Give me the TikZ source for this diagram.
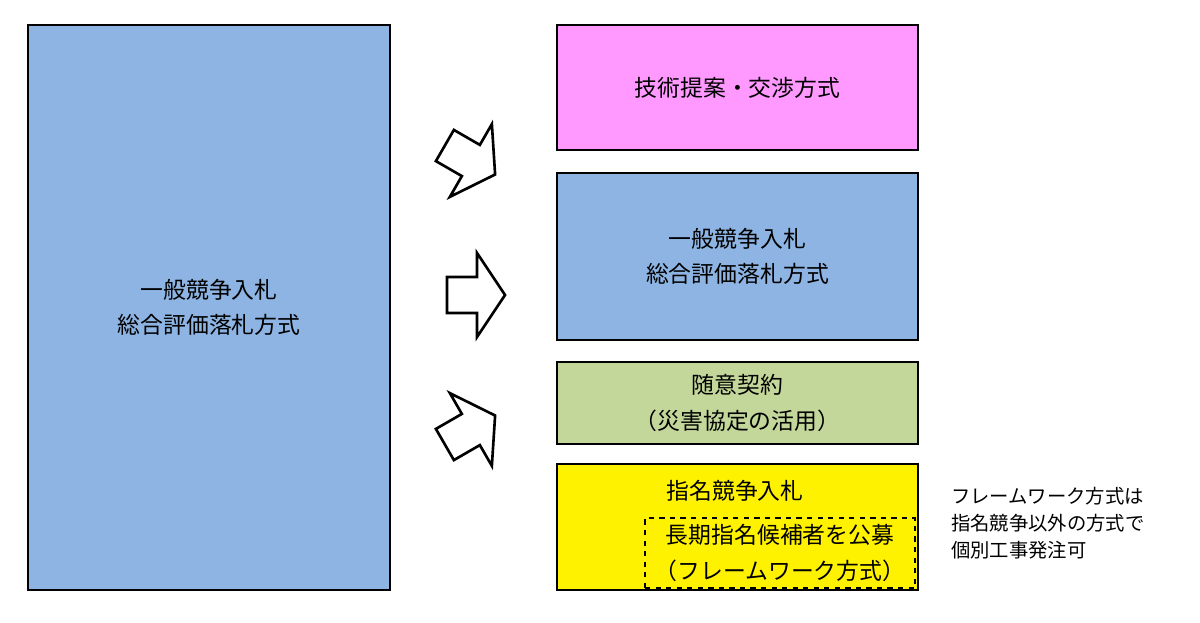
\documentclass[tikz,border=0pt]{standalone}
\usepackage{fontspec}
\setmainfont{Noto Sans CJK JP}
\usetikzlibrary{positioning, fit}
\tikzset{
  box/.style={rectangle, draw=black, line width=1.2pt, inner sep=0pt, align=center, font=\fontsize{13}{20}\selectfont},
  label/.style={align=center, font=\fontsize{13}{20}\selectfont},
  blockarrow/.pic={
    \draw[line width=1.5pt, fill=white, line join=miter]
      (-29,-18) -- (1,-18) -- (1,-42) -- (29,0) -- (1,42) -- (1,18) -- (-29,18) -- cycle;
  }
}

\begin{document}
\begin{tikzpicture}[x=0.02cm, y=-0.02cm]
\useasboundingbox (0,0) rectangle (1200,622);

% Boxes
\node (current) [box, fill={rgb,255:red,141;green,180;blue,226}, fit={(28,25)(390,590)}] {};
\node at (current.center) [label] {一般競争入札\\総合評価落札方式};

\node (teian) [box, fill={rgb,255:red,255;green,153;blue,255}, fit={(557,25)(918,150)}] {};
\node at (teian.center) [label] {技術提案・交渉方式};

\node (sogo) [box, fill={rgb,255:red,141;green,180;blue,226}, fit={(557,173)(918,340)}] {};
\node at (sogo.center) [label] {一般競争入札\\総合評価落札方式};

\node (zuii) [box, fill={rgb,255:red,196;green,215;blue,155}, fit={(557,362)(918,444)}] {};
\node at (zuii.center) [label] {随意契約\\（災害協定の活用）};

\node (shimei) [box, fill=yellow, fit={(557,464)(918,590)}] {};
\node (shimei_t) at (735,491) [label] {指名競争入札};
\node (frame) [box, dashed, line width=1pt, fit={(645,518)(915,588)}] {};
\node at (frame.center) [label] {長期指名候補者を公募\\（フレームワーク方式）};

\node (note) at (945,523) [anchor=west, align=left, font=\fontsize{11}{15.5}\selectfont] {フレームワーク方式は\\指名競争以外の方式で\\個別工事発注可};

% Arrows
\pic[rotate=-30] at (470,160) {blockarrow};
\pic at (476,295) {blockarrow};
\pic[rotate=30] at (470,430) {blockarrow};

\end{tikzpicture}
\end{document}
